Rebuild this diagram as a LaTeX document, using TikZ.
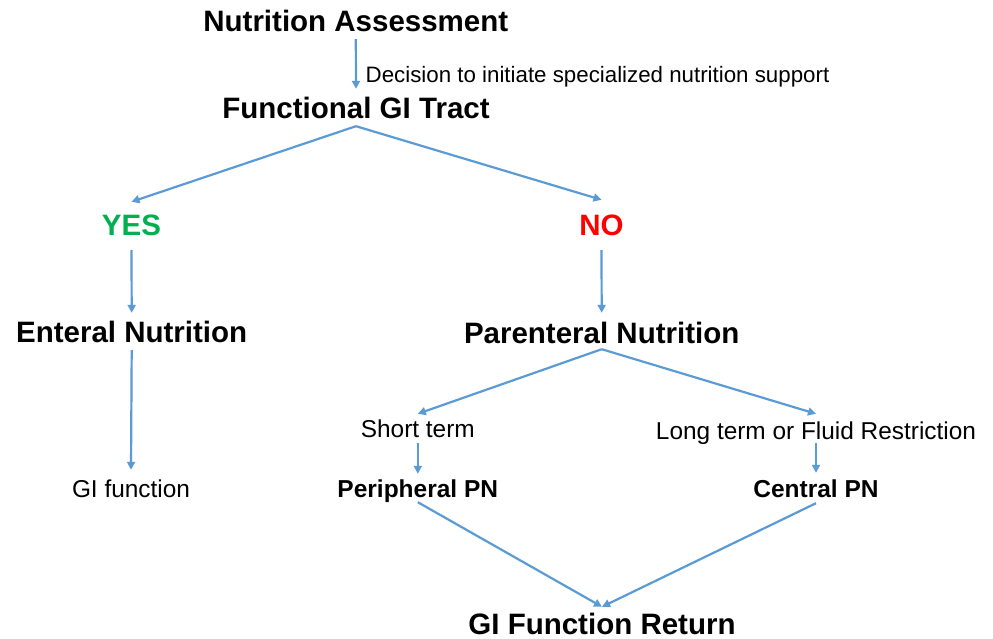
\documentclass[tikz,border=0pt]{standalone}
\usepackage{fontspec}
\setmainfont{Liberation Sans}
\usetikzlibrary{arrows.meta}
\definecolor{arrowblue}{HTML}{5B9BD5}
\definecolor{yesgreen}{HTML}{00B050}
\definecolor{nored}{HTML}{FF0000}
\tikzset{
  bigtitle/.style={font=\fontsize{29.5}{32}\selectfont\bfseries, inner sep=0pt, anchor=base},
  smalltitle/.style={font=\fontsize{24.5}{28}\selectfont\bfseries, inner sep=0pt, anchor=base},
  plaintext/.style={font=\fontsize{24.4}{28}\selectfont, inner sep=0pt, anchor=base},
  labeltext/.style={font=\fontsize{22.3}{26}\selectfont, inner sep=0pt, anchor=base west},
  gaps/.style 2 args={text height=#1pt, text depth=#2pt},
  conn/.style={draw=arrowblue, line width=2.2pt, -{Triangle[length=8pt,width=8pt]}}
}
\begin{document}
\begin{tikzpicture}[x=1pt,y=-1pt]
\useasboundingbox[fill=white] (0,0) rectangle (993,639);
% nodes
\node[bigtitle, gaps={22}{7}] (na) at (355.8,32) {Nutrition Assessment};
\node[labeltext] (dec) at (365.5,83) {Decision to initiate specialized nutrition support};
\node[bigtitle, gaps={30}{7}] (fgt) at (356,119) {Functional GI Tract};
\node[bigtitle, gaps={34}{14}, text=yesgreen] (yes) at (131.5,236) {YES};
\node[bigtitle, gaps={36}{14}, text=nored] (no) at (601.5,236) {NO};
\node[bigtitle, gaps={29}{8}] (en) at (131.7,342) {Enteral Nutrition};
\node[bigtitle, gaps={30}{6}] (pn) at (601.7,343) {Parenteral Nutrition};
\node[plaintext, gaps={27}{0}] (gif) at (131,497) {GI function};
\node[plaintext, gaps={23}{6}] (st) at (417.8,437) {Short term};
\node[plaintext, gaps={25}{4}] (lt) at (816,439) {Long term or Fluid Restriction};
\node[smalltitle, gaps={23}{5}] (ppn) at (417.8,497) {Peripheral PN};
\node[smalltitle, gaps={24}{6}] (cpn) at (816,497) {Central PN};
\node[bigtitle, gaps={27}{2}] (gifr) at (602,634) {GI Function Return};
% connectors
\draw[conn] (na.south) -- (fgt.north);
\draw[conn] (fgt.south) -- (yes.north);
\draw[conn] (fgt.south) -- (no.north);
\draw[conn] (yes.south) -- (en.north);
\draw[conn] (no.south) -- (pn.north);
\draw[conn] (en.south) -- (gif.north);
\draw[conn] (pn.south) -- (st.north);
\draw[conn] (pn.south) -- (lt.north);
\draw[conn] (st.south) -- (ppn.north);
\draw[conn] (lt.south) -- (cpn.north);
\draw[conn] (ppn.south) -- (gifr.north);
\draw[conn] (cpn.south) -- (gifr.north);
\end{tikzpicture}
\end{document}
